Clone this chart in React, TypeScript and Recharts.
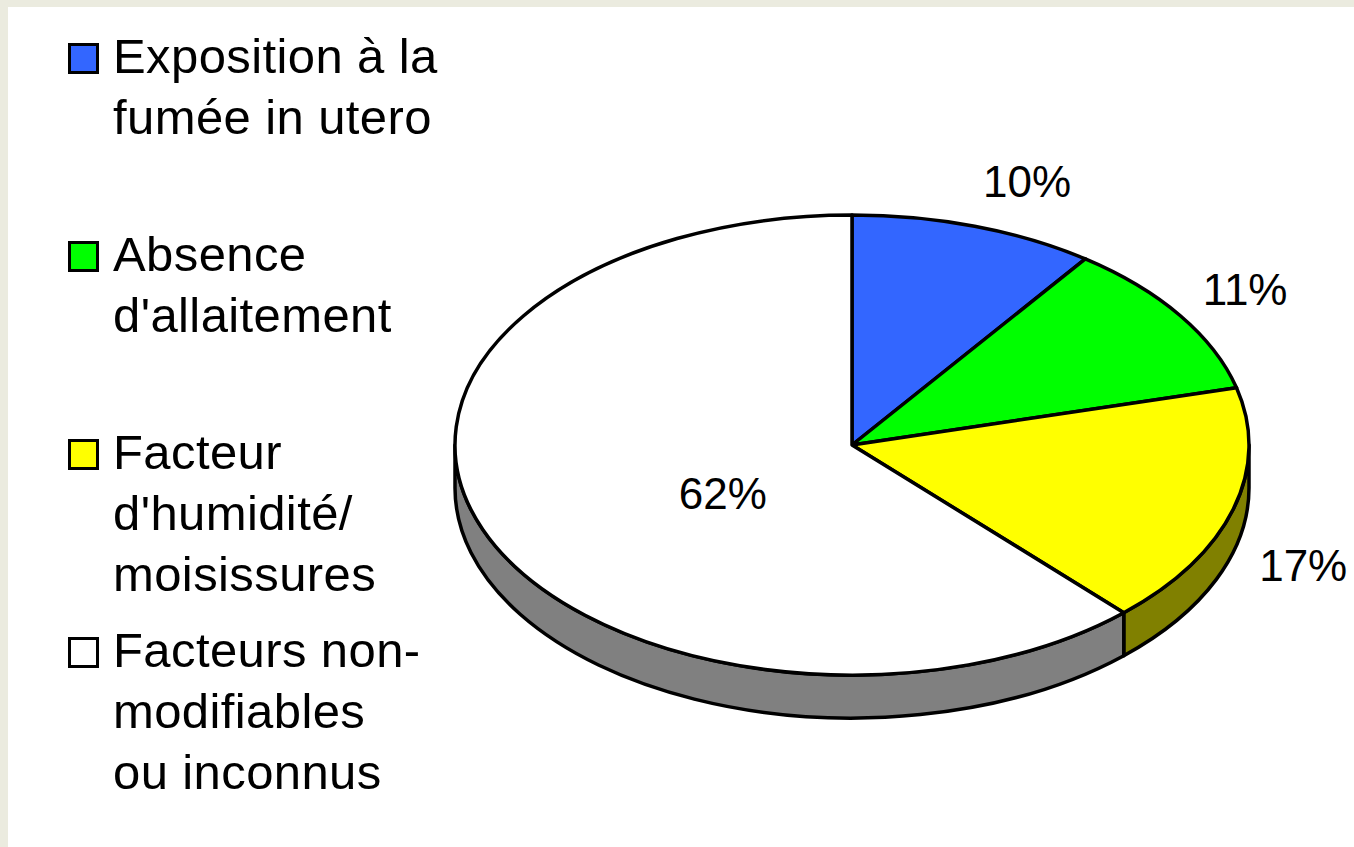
import { Legend, Pie, PieChart } from "recharts";

// Répartition des facteurs (camembert 3D incliné)
const categories = [
  "Exposition à la\nfumée in utero",
  "Absence\nd'allaitement",
  "Facteur\nd'humidité/\nmoisissures",
  "Facteurs non-\nmodifiables\nou inconnus",
];
const shares = [10, 11, 17, 62];
const percentLabels = ["10%", "11%", "17%", "62%"];

const TOP_COLORS = ["#3366FF", "#00FF00", "#FFFF00", "#FFFFFF"];
const SIDE_COLORS = ["#1A3380", "#008000", "#808000", "#808080"];

const W = 1346;
const H = 840;
const CX = 844;
const CY = 438;
const RX = 397;
const TILT = 230 / 397; // rapport ry / rx de l'ellipse
const DEPTH = 43;
const LINE = 3.5;
const FONT = '"Liberation Sans", Arial, sans-serif';
const RAD = Math.PI / 180;

const data = categories.map((name, i) => ({
  name,
  value: shares[i],
  fill: TOP_COLORS[i],
}));

function pt(cx: number, cy: number, rx: number, ry: number, a: number) {
  return [cx + rx * Math.cos(a * RAD), cy - ry * Math.sin(a * RAD)];
}

function Slice3D(props: any) {
  const { cx, cy, outerRadius, startAngle, endAngle, index } = props;
  const rx = outerRadius;
  const ry = outerRadius * TILT;
  const hi = Math.max(startAngle, endAngle);
  const lo = Math.min(startAngle, endAngle);

  // flanc visible : partie de l'arc dans la moitié basse
  const sides: string[] = [];
  for (let k = -1; k <= 1; k++) {
    const a = Math.min(hi, 360 * k);
    const b = Math.max(lo, -180 + 360 * k);
    if (a - b > 0.01) {
      const [x1, y1] = pt(cx, cy, rx, ry, a);
      const [x2, y2] = pt(cx, cy, rx, ry, b);
      const large = a - b > 180 ? 1 : 0;
      sides.push(
        `M${x1},${y1} A${rx},${ry} 0 ${large} 1 ${x2},${y2} L${x2},${y2 + DEPTH} A${rx},${ry} 0 ${large} 0 ${x1},${y1 + DEPTH} Z`
      );
    }
  }

  const [sx, sy] = pt(cx, cy, rx, ry, hi);
  const [ex, ey] = pt(cx, cy, rx, ry, lo);
  const large = hi - lo > 180 ? 1 : 0;
  const top = `M${cx},${cy} L${sx},${sy} A${rx},${ry} 0 ${large} 1 ${ex},${ey} Z`;

  return (
    <g>
      {sides.map((d, j) => (
        <path key={j} d={d} fill={SIDE_COLORS[index]} stroke="#000" strokeWidth={LINE} strokeLinejoin="round" />
      ))}
      <path d={top} fill={TOP_COLORS[index]} stroke="#000" strokeWidth={LINE} strokeLinejoin="round" />
    </g>
  );
}

function renderLabel(props: any) {
  const { cx, cy, outerRadius, midAngle, index, percent } = props;
  const rx = outerRadius;
  const ry = outerRadius * TILT;
  const c = Math.cos(midAngle * RAD);
  const s = Math.sin(midAngle * RAD);
  let x: number;
  let y: number;
  let anchor: "start" | "middle" | "end";
  if (percent > 0.5) {
    x = cx + rx * 0.35 * c;
    y = cy - ry * 0.57 * s;
    anchor = "middle";
  } else {
    x = cx + (rx + 27) * c;
    y = cy - (ry + 25) * s + (s < 0 ? DEPTH : 0) - 22 * s;
    anchor = c >= 0 ? "start" : "end";
  }
  return (
    <text
      key={`lbl-${index}`}
      x={x}
      y={y}
      textAnchor={anchor}
      dominantBaseline="central"
      fill="#000"
      fontFamily={FONT}
      fontSize={44}
    >
      {percentLabels[index]}
    </text>
  );
}

function renderLegend() {
  return (
    <div style={{ position: "relative", width: 440, height: 820, fontFamily: FONT }}>
      {categories.map((name, i) => (
        <div key={name} style={{ position: "absolute", left: 0, top: 19 + 198 * i }}>
          <div
            style={{
              position: "absolute",
              left: 60,
              top: 17,
              width: 25,
              height: 25,
              border: "3px solid #000",
              background: TOP_COLORS[i],
            }}
          />
          <div
            style={{
              position: "absolute",
              left: 105,
              top: 0,
              fontSize: 49,
              lineHeight: "61px",
              whiteSpace: "pre",
              letterSpacing: 0.4,
              color: "#000",
            }}
          >
            {name}
          </div>
        </div>
      ))}
    </div>
  );
}

export default function App() {
  return (
    <div style={{ position: "absolute", left: 0, top: 0, width: 1354, height: 847, background: "#EBEBDF" }}>
      <div style={{ position: "absolute", left: 8, top: 7, width: W, height: H, background: "#FFFFFF" }}>
        <PieChart width={W} height={H} margin={{ top: 0, right: 0, bottom: 0, left: 0 }}>
          <Legend
            layout="vertical"
            align="center"
            verticalAlign="middle"
            wrapperStyle={{ left: 0, top: 0, width: 440, height: 820 }}
            content={renderLegend}
          />
          <Pie
            data={data}
            dataKey="value"
            nameKey="name"
            cx={CX}
            cy={CY}
            outerRadius={RX}
            startAngle={90}
            endAngle={-270}
            stroke="#000"
            shape={Slice3D}
            label={renderLabel}
            labelLine={false}
            isAnimationActive={false}
          />
        </PieChart>
      </div>
    </div>
  );
}
